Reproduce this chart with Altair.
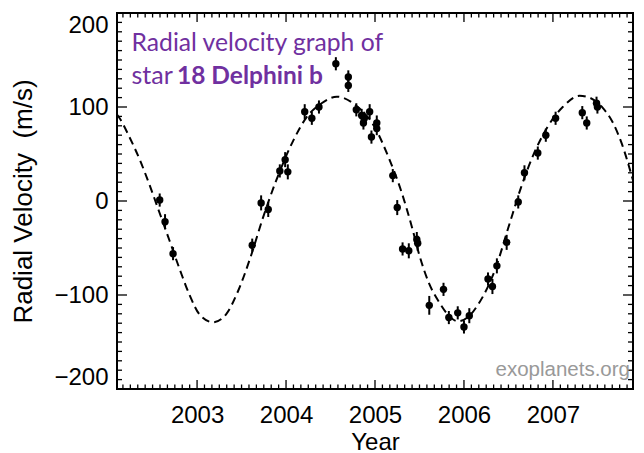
import altair as alt
import pandas as pd

# ---- observed radial velocities (year, m/s, error) ----
obs_year = [2002.58, 2002.64, 2002.73, 2003.62, 2003.72, 2003.80, 2003.93, 2003.99, 2004.02,
            2004.21, 2004.29, 2004.37, 2004.56, 2004.70, 2004.70, 2004.79, 2004.85, 2004.87,
            2004.88, 2004.94, 2004.96, 2005.02, 2005.02, 2005.20, 2005.25, 2005.31, 2005.38,
            2005.47, 2005.48, 2005.61, 2005.77, 2005.83, 2005.93, 2006.00, 2006.06, 2006.27,
            2006.32, 2006.37, 2006.48, 2006.61, 2006.68, 2006.83, 2006.92, 2007.03, 2007.33,
            2007.38, 2007.49, 2007.50]
obs_rv = [1, -22, -56, -47, -2, -9, 32, 44, 31,
          95, 88, 100, 146, 132, 123, 97, 91, 83,
          88, 95, 68, 83, 77, 27, -7, -51, -53,
          -41, -45, -111, -94, -124, -119, -134, -122, -83,
          -91, -69, -44, -1, 30, 51, 70, 88, 94,
          83, 104, 100]
obs_err = [7, 8, 7, 7, 8, 8, 7, 8, 8,
           8, 7, 7, 7, 7, 7, 7, 7, 7,
           7, 8, 7, 8, 7, 7, 8, 7, 8,
           8, 8, 10, 7, 7, 7, 7, 8, 7,
           8, 8, 8, 7, 8, 7, 7, 7, 7,
           7, 7, 7]

# ---- orbital fit (dashed curve) ----
fit_year = [2002.10, 2002.13, 2002.24, 2002.36, 2002.47, 2002.58, 2002.69, 2002.81, 2002.92,
            2003.03, 2003.18, 2003.33, 2003.46, 2003.60, 2003.74, 2003.89, 2004.08, 2004.23,
            2004.40, 2004.57, 2004.78, 2005.00, 2005.15, 2005.30, 2005.41, 2005.50, 2005.60,
            2005.73, 2005.84, 2005.93, 2006.04, 2006.16, 2006.35, 2006.50, 2006.64, 2006.78,
            2006.94, 2007.11, 2007.30, 2007.41, 2007.56, 2007.67, 2007.77, 2007.90]
fit_rv = [92, 88, 68, 43, 16, -13, -42, -74, -101,
          -121, -129, -120, -96, -60, -18, 22, 64, 89,
          104, 111, 102, 78, 47, 9, -26, -58, -86,
          -109, -123, -128, -124, -110, -73, -28, 14, 49,
          79, 100, 112, 110, 99, 84, 62, 22]

# ---- axes ----
x_major = [2003, 2004, 2005, 2006, 2007]
y_major = [-200, -100, 0, 100, 200]
x_domain = [2002.1, 2007.9]
y_domain = [-200, 200]
x_minor = [round(2002 + k / 12, 5) for k in range(0, 73)
           if 2002.1 < 2002 + k / 12 < 2007.9 and k % 12 != 0]
y_minor = [v for v in range(-190, 200, 10) if v % 100 != 0]

# ---- texts ----
title_line1 = "Radial velocity graph of"
title_line2a = "star"
title_line2b = "18 Delphini b"
watermark = "exoplanets.org"
x_title = "Year"
y_title = "Radial Velocity\u00a0 (m/s)"

W, H = 516, 376
PURPLE = "#7030A0"
LABEL_FONT = "Liberation Sans"

obs = pd.DataFrame({"year": obs_year, "rv": obs_rv, "err": obs_err})
obs["lo"] = obs["rv"] - obs["err"]
obs["hi"] = obs["rv"] + obs["err"]
fit = pd.DataFrame({"year": fit_year, "rv": fit_rv})

x_scale = alt.Scale(domain=x_domain, nice=False, zero=False)
y_scale = alt.Scale(domain=y_domain, nice=False, zero=False)

x_axis = alt.Axis(values=x_major, format="d", title=x_title, ticks=False, domain=False,
                  grid=False, labelFontSize=24, labelPadding=14, labelFont=LABEL_FONT,
                  labelColor="black", titleFont=LABEL_FONT, titleFontSize=24,
                  titleFontWeight="normal", titleColor="black", titlePadding=3,
                  labelFlush=False)
y_axis = alt.Axis(values=y_major, title=y_title, ticks=False, domain=False, grid=False,
                  labelFontSize=24, labelPadding=9, labelFont=LABEL_FONT,
                  labelColor="black", titleFont=LABEL_FONT, titleFontSize=26,
                  titleFontWeight="normal", titleColor="black", titlePadding=17,
                  labelFlush=True)


def X(field):
    return alt.X(field, scale=x_scale, axis=x_axis, title=x_title)


def Y(field):
    return alt.Y(field, scale=y_scale, axis=y_axis, title=y_title)


curve = alt.Chart(fit).mark_line(color="black", strokeWidth=2, strokeDash=[8, 5],
                                 interpolate="monotone").encode(x=X("year:Q"), y=Y("rv:Q"))
errbars = alt.Chart(obs).mark_rule(color="black", strokeWidth=2).encode(
    x=X("year:Q"), y=Y("lo:Q"), y2="hi:Q")
points = alt.Chart(obs).mark_circle(size=55, color="black", opacity=1).encode(
    x=X("year:Q"), y=Y("rv:Q"))


def xticks(vals, length):
    df = pd.DataFrame({"t": vals})
    base = alt.Chart(df).mark_rule(color="black", strokeWidth=1.3)
    return [base.encode(x=X("t:Q"), y=alt.value(H), y2=alt.value(H - length)),
            base.encode(x=X("t:Q"), y=alt.value(0), y2=alt.value(length))]


def yticks(vals, length):
    df = pd.DataFrame({"t": vals})
    base = alt.Chart(df).mark_rule(color="black", strokeWidth=1.3)
    return [base.encode(y=Y("t:Q"), x=alt.value(0), x2=alt.value(length)),
            base.encode(y=Y("t:Q"), x=alt.value(W), x2=alt.value(W - length))]


def label(text, x, y, **kw):
    return alt.Chart(pd.DataFrame({"t": [text]})).mark_text(**kw).encode(
        text="t:N", x=alt.value(x), y=alt.value(y))


texts = [
    label(title_line1, 14.5, 37.5, font="Lato", fontSize=24.7, color=PURPLE, align="left",
          baseline="alphabetic"),
    label(title_line2a, 14.5, 70.5, font="Lato", fontSize=25, color=PURPLE, align="left",
          baseline="alphabetic"),
    label(title_line2b, 60, 70.5, font="Lato", fontSize=24.5, fontWeight="bold", color=PURPLE,
          align="left", baseline="alphabetic"),
    label(watermark, 513, 363, font=LABEL_FONT, fontSize=20.5, color="#999999", align="right",
          baseline="alphabetic"),
]

chart = alt.layer(
    curve, errbars, points,
    *xticks(x_major, 9), *xticks(x_minor, 4.5),
    *yticks(y_major, 10), *yticks(y_minor, 5),
    *texts,
).properties(
    width=W, height=H,
    padding={"left": 109, "top": 5, "right": 3, "bottom": 64},
    autosize=alt.AutoSizeParams(type="none"),
).configure_view(stroke="black", strokeWidth=2)

chart.save("out.html", embed_options={"renderer": "svg", "actions": False})
